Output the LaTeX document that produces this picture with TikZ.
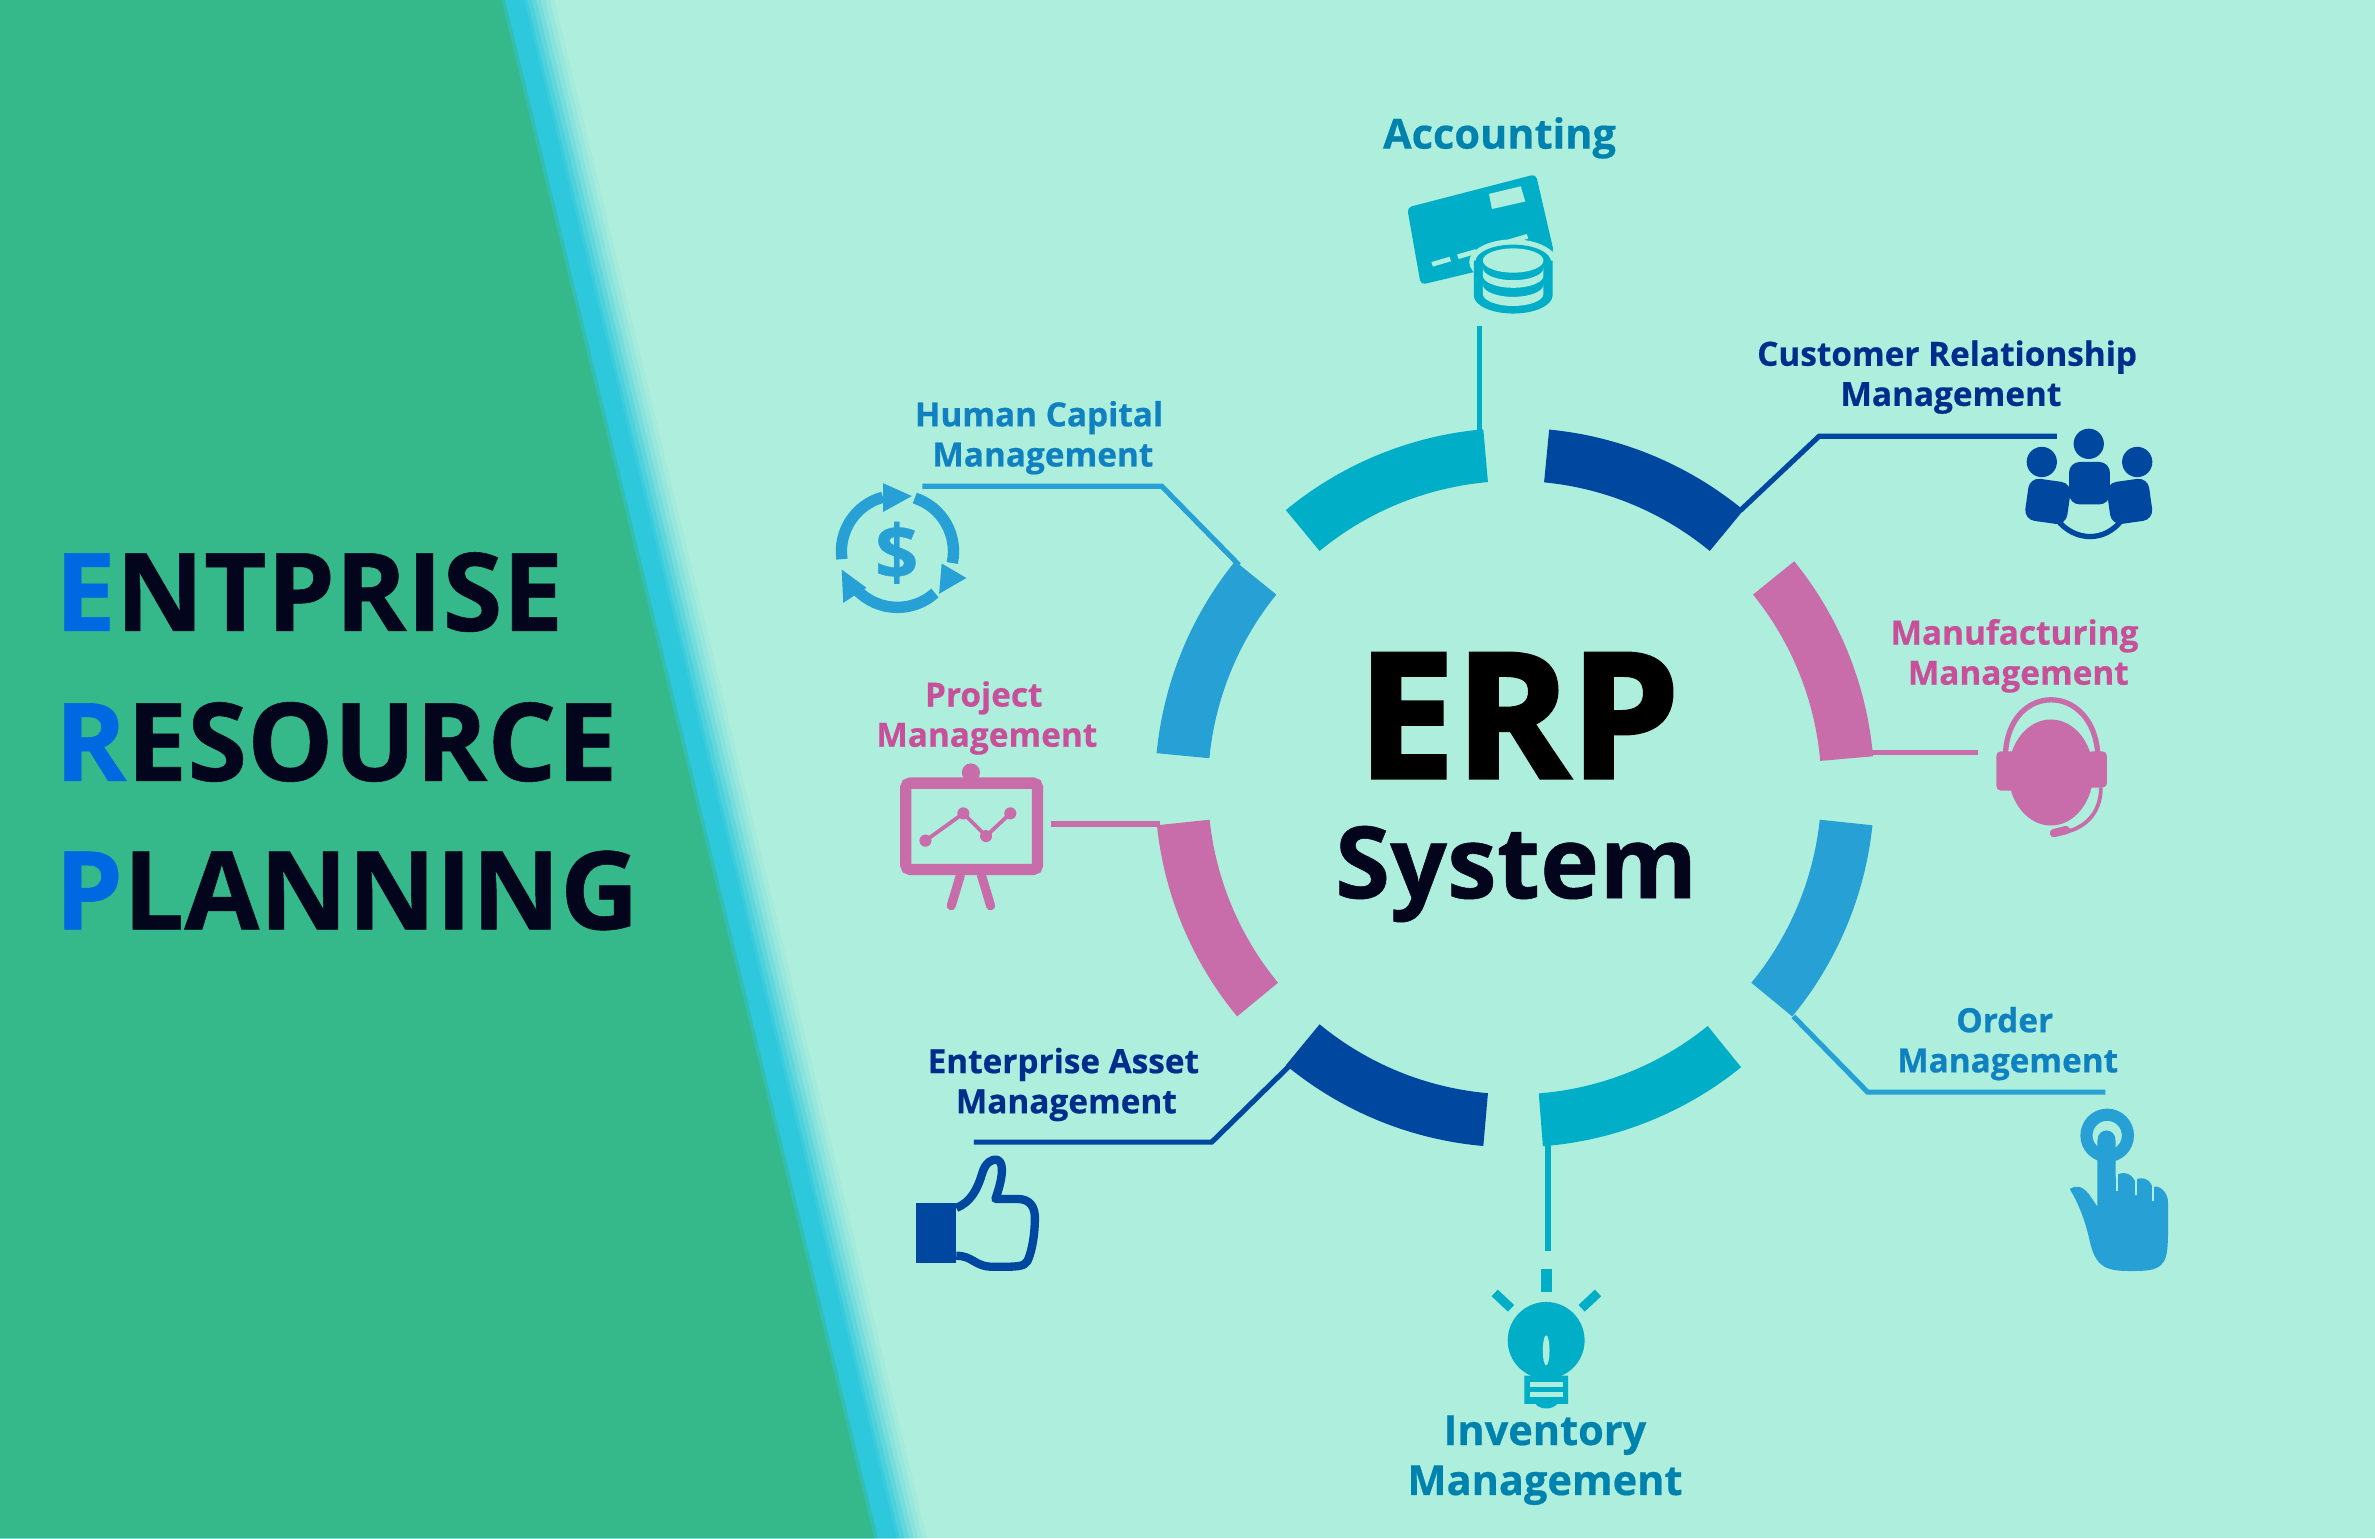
\documentclass[tikz,border=0pt]{standalone}
\usepackage{fontspec}
\setmainfont{Open Sans}[BoldFeatures={FakeBold=0.5}]
\newfontfamily\heavyfont{Open Sans}[BoldFeatures={FakeBold=2.2}]
\definecolor{mint}{HTML}{AEEEDC}
\definecolor{leafgreen}{HTML}{35B88A}
\definecolor{stripcyan}{HTML}{2EC8DC}
\definecolor{teal}{HTML}{00AEC7}
\definecolor{navy}{HTML}{0047A0}
\definecolor{skyb}{HTML}{27A1D5}
\definecolor{rose}{HTML}{C86DAA}
\definecolor{inkdark}{HTML}{02051C}
\definecolor{capblue}{HTML}{0068E0}
\definecolor{tealtxt}{HTML}{0082AE}
\definecolor{navytxt}{HTML}{002C8C}
\definecolor{skytxt}{HTML}{0F80C0}
\definecolor{rosetxt}{HTML}{C8509A}
\tikzset{
  title/.style={anchor=base west,inner sep=0pt,text=inkdark,font=\bfseries\fontsize{71.7}{72}\selectfont},
  labsmall/.style={inner sep=0pt,align=center,font=\bfseries\fontsize{22}{26.5}\selectfont},
  labbig/.style={inner sep=0pt,align=center,font=\bfseries\fontsize{27.4}{33}\selectfont},
  leader/.style={line width=3.4pt,line join=miter},
}
\newcommand{\ringseg}[3]{\fill[#1] ([shift={(#2:237.5)}]C) arc[start angle=#2,end angle=#3,radius=237.5] -- ([shift={(#3:202.5)}]C) arc[start angle=#3,end angle=#2,radius=202.5] -- cycle;}
\begin{document}
\begin{tikzpicture}[x=1pt,y=-1pt]
\useasboundingbox (0,0) rectangle (1568,1015.4);
\fill[mint] (0,0) rectangle (1568,1015.4);
% slanted band with a soft right edge
\foreach \e/\m in {366/8,363/18,360/30,357/44,354/60,351/76,348/90,346/100}{
  \fill[stripcyan!\m!mint] (0,0) -- (\e,0) -- ({\e+246},1015.4) -- (0,1015.4) -- cycle;
}
\fill[leafgreen!55!stripcyan] (0,0) -- (333.5,0) -- (579.5,1015.4) -- (0,1015.4) -- cycle;
\fill[leafgreen] (0,0) -- (331,0) -- (577,1015.4) -- (0,1015.4) -- cycle;
% left title
\node[title] (t1) at (36,416.5) {\textcolor{capblue}{E}NTPRISE};
\node[title] (t2) at (36,515.5) {\textcolor{capblue}{R}ESOURCE};
\node[title] (t3) at (36,613.5) {\textcolor{capblue}{P}LANNING};
% centre
\coordinate (C) at (1000,520);
\node[anchor=base,inner sep=0pt,text=black,font=\heavyfont\bfseries\fontsize{115}{115}\selectfont] (erp) at (1002.5,513.5) {ERP};
\node[anchor=base,inner sep=0pt,text=inkdark,font=\bfseries\fontsize{66}{66}\selectfont] (sys) at (1001,593) {System};
% ring
\ringseg{teal}{-95}{-129.5}
\ringseg{navy}{-84.5}{-50.5}
\ringseg{rose}{-39}{-5}
\ringseg{skyb}{6}{39.5}
\ringseg{teal}{51}{85.5}
\ringseg{navy}{95}{129.5}
\ringseg{rose}{174}{140.5}
\ringseg{skyb}{-141}{-174.5}
% connector ends
\coordinate (acc0) at (977,287); \coordinate (acc1) at (977,215);
\coordinate (crm0) at (1149,337); \coordinate (crm1) at (1201,288); \coordinate (crm2) at (1358,288);
\coordinate (mfg0) at (1235,497); \coordinate (mfg1) at (1306,497);
\coordinate (ord0) at (1184,671); \coordinate (ord1) at (1233,721); \coordinate (ord2) at (1390,721);
\coordinate (inv0) at (1022,755); \coordinate (inv1) at (1022,826);
\coordinate (ent0) at (851,704); \coordinate (ent1) at (800,754); \coordinate (ent2) at (643,754);
\coordinate (prj0) at (766,544); \coordinate (prj1) at (694,544);
\coordinate (hcm0) at (818,373); \coordinate (hcm1) at (767,321); \coordinate (hcm2) at (609,321);
\draw[leader,teal] (acc0) -- (acc1);
\draw[leader,navy] (crm0) -- (crm1) -- (crm2);
\draw[leader,rose] (mfg0) -- (mfg1);
\draw[leader,skyb] (ord0) -- (ord1) -- (ord2);
\draw[leader,teal] (inv0) -- (inv1);
\draw[leader,navy] (ent0) -- (ent1) -- (ent2);
\draw[leader,rose] (prj0) -- (prj1);
\draw[leader,skyb] (hcm0) -- (hcm1) -- (hcm2);
% labels
\node[labbig,text=tealtxt] (acc) at (990,91) {Accounting};
\node[labsmall,text=navytxt] (crm) at (1285.5,249) {Customer Relationship\\\hspace*{5pt}Management};
\node[labsmall,text=skytxt] (hcm) at (686,289) {Human Capital\\\hspace*{5pt}Management};
\node[labsmall,text=rosetxt] (mfg) at (1330,433) {Manufacturing\\\hspace*{5pt}Management};
\node[labsmall,text=rosetxt] (prj) at (651.5,474) {Project\hspace*{4pt}\\Management};
\node[labsmall,text=skytxt] (ord) at (1325.5,689) {Order\hspace*{4pt}\\Management};
\node[labsmall,text=navytxt] (ent) at (702,716) {Enterprise Asset\\\hspace*{4pt}Management};
\node[labbig,text=tealtxt] (inv) at (1020,964) {Inventory\\Management};
% --- accounting icon
\fill[teal,rounded corners=3pt] (929,137) -- (1014,115) -- (1026,167) -- (938,188) -- cycle;
\fill[mint] (983,128) -- (1004,123) -- (1007,133) -- (985,138) -- cycle;
\foreach \i in {0,1,2,3}{
  \fill[mint] ({945+\i*17},{173-\i*5}) -- ++(12,-3.5) -- ++(1,3) -- ++(-12,3.5) -- cycle;
}
\fill[mint] (999,173) ellipse[x radius=29,y radius=15];
\fill[mint] (999,196) ellipse[x radius=29,y radius=14];
\fill[teal] (973,172) -- (1025,172) -- (1025,195) arc[start angle=0,end angle=180,x radius=26,y radius=12] -- cycle;
\fill[teal] (999,173) ellipse[x radius=25,y radius=11.5];
\fill[mint] (999,172) ellipse[x radius=20,y radius=8];
\fill[mint] (979,177) arc[start angle=180,end angle=0,x radius=20,y radius=8] -- (1019,182) arc[start angle=0,end angle=180,x radius=20,y radius=8] -- cycle;
\fill[mint] (979,188) arc[start angle=180,end angle=0,x radius=20,y radius=8] -- (1019,194) arc[start angle=0,end angle=180,x radius=20,y radius=8] -- cycle;
% --- CRM icon
\fill[navy] (1379,293) circle[radius=10];
\fill[navy] (1348,305) circle[radius=10];
\fill[navy] (1411,305) circle[radius=10];
\draw[navy,line width=3.5pt] (1362,325) -- (1396,325);
\draw[navy,line width=3.5pt] (1358,343) .. controls (1370,358) and (1390,358) .. (1401,343);
\fill[navy,rounded corners=7pt] (1366,305) rectangle (1393,333);
\fill[navy,rounded corners=7pt,rotate around={-8:(1352,331)}] (1338,317) rectangle (1366,345);
\fill[navy,rounded corners=7pt,rotate around={8:(1406,331)}] (1392,317) rectangle (1420,345);
% --- headset icon
\fill[rose] (1354,510) ellipse[x radius=28,y radius=35];
\draw[rose,line width=3.5pt] (1324,498) .. controls (1326,450) and (1382,450) .. (1385,498);
\fill[rose,rounded corners=3pt] (1318,496) rectangle (1331,522);
\fill[rose,rounded corners=3pt] (1378,496) rectangle (1391,520);
\draw[rose,line width=2.5pt] (1387,520) .. controls (1387,538) and (1375,548) .. (1360,550);
\draw[rose,line width=5.5pt,line cap=round] (1356,550) -- (1364,548);
% --- order icon
\begin{scope}[shift={(1287.4,660.2)},scale=0.2208]
\draw[skyb,line width=8pt] (470,405) circle[radius=62];
\fill[skyb] (358,565) .. controls (375,553) and (395,555) .. (415,580) -- (441,618) -- (441,420)
  .. controls (441,380) and (495,380) .. (495,420) -- (495,530)
  .. controls (503,512) and (540,512) .. (552,540)
  .. controls (570,525) and (600,535) .. (605,560)
  .. controls (625,550) and (652,575) .. (652,605)
  -- (652,700) .. controls (650,770) and (650,808) .. (570,810)
  .. controls (480,812) and (440,810) .. (420,730)
  .. controls (405,660) and (385,610) .. (358,565) -- cycle;
\draw[mint,line width=1.4pt] (499,520) -- (499,570) (555,530) -- (555,582) (607,552) -- (607,602);
\end{scope}
% --- thumb icon
\begin{scope}[shift={(581,673.4)},scale=0.2208]
\fill[navy] (107,548) rectangle (228,728);
\draw[navy,line width=5.5pt,line join=round] (228,562) .. controls (270,545) and (290,510) .. (305,460)
  .. controls (315,425) and (335,415) .. (350,418)
  .. controls (372,425) and (368,470) .. (345,535)
  -- (410,535) .. controls (450,535) and (465,560) .. (463,600)
  .. controls (462,650) and (452,700) .. (440,722)
  .. controls (430,738) and (410,738) .. (340,738)
  .. controls (280,738) and (280,705) .. (228,705);
\end{scope}
% --- bulb icon
\begin{scope}[shift={(924.3,818.7)},scale=0.2208]
\fill[teal] (422,85) rectangle (453,155);
\draw[teal,line width=6pt] (283,158) -- (332,204);
\draw[teal,line width=6pt] (592,158) -- (543,204);
\fill[teal] (437,300) circle[radius=115];
\fill[teal] (350,360) -- (525,360) -- (500,393) -- (375,393) -- cycle;
\fill[mint] (437,330) ellipse[x radius=10,y radius=45];
\fill[teal] (372,405) -- (503,405) -- (503,490) -- (470,490) .. controls (455,508) and (420,508) .. (405,490) -- (372,490) -- cycle;
\fill[mint] (388,425) rectangle (488,439);
\fill[mint] (388,455) rectangle (488,468);
\end{scope}
% --- project icon
\fill[rose] (641,510) circle[radius=6];
\draw[rose,line width=6pt,line cap=round] (634,578) -- (628,598);
\draw[rose,line width=6pt,line cap=round] (648,578) -- (654,598);
\draw[rose,line width=7.5pt,rounded corners=3pt,fill=mint] (598,517) rectangle (685,574);
\draw[rose,line width=2.5pt] (611,555) -- (636,537) -- (651,552) -- (667,537);
\foreach \p in {(611,555),(636,537),(651,552),(667,537)}{\fill[rose] \p circle[radius=4];}
% --- HCM icon
\coordinate (D) at (592.5,364);
\draw[skyb,line width=7.5pt] ([shift={(-188:37)}]D) arc[start angle=-188,end angle=-105,radius=37];
\draw[skyb,line width=7.5pt] ([shift={(-72:37)}]D) arc[start angle=-72,end angle=12,radius=37];
\draw[skyb,line width=7.5pt] ([shift={(48:37)}]D) arc[start angle=48,end angle=135,radius=37];
\fill[skyb] (583,319) -- (602,327.5) -- (583,338) -- cycle;
\fill[skyb] (621.7,372) -- (638,381.6) -- (620,392) -- cycle;
\fill[skyb] (555.7,376) -- (572,388) -- (556.7,398) -- cycle;
\node[inner sep=0pt,text=skyb,font=\bfseries\fontsize{50}{50}\selectfont] (dollar) at (592,365) {\$};
\end{tikzpicture}
\end{document}
